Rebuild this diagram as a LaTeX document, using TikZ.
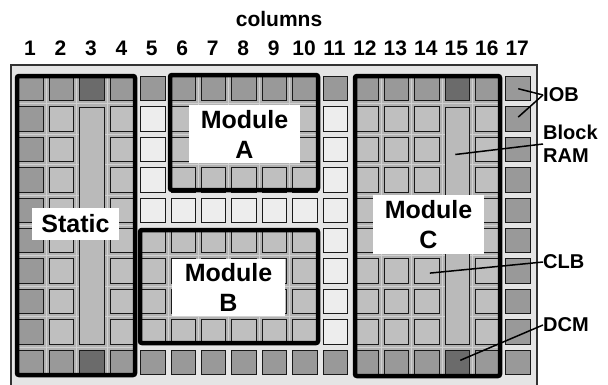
\documentclass[tikz,border=0pt]{standalone}
\usepackage{fontspec}
\setmainfont{Liberation Sans}
\usetikzlibrary{calc}

\tikzset{
  cell/.style={draw=black!90, line width=1pt, minimum size=24.5pt, inner sep=0pt},
  modborder/.style={line width=4.5pt, rounded corners=2pt},
  modlabel/.style={fill=white, font=\bfseries\fontsize{25}{30}\selectfont, align=center, inner sep=0pt},
  sidelabel/.style={font=\bfseries\fontsize{20}{23}\selectfont, anchor=west, align=left, inner sep=0pt},
  colnum/.style={font=\bfseries\fontsize{21}{24}\selectfont, inner sep=0pt},
  pointer/.style={line width=1.5pt}
}

\begin{document}
\begin{tikzpicture}[x=1pt,y=-1pt]
\useasboundingbox (0,0) rectangle (608,384);

% chip outline
\draw[line width=1.2pt, draw=black!80, fill=black!10] (11,65) rectangle (537,400);

% module areas with their routing grid
\foreach \xa/\ya/\xb/\yb in {17/76/135/375, 170/75/318/190, 140/230/318/343, 355/76/500/376}{
  \begin{scope}
    \clip (\xa,\ya) rectangle (\xb,\yb);
    \fill[black!30] (\xa,\ya) rectangle (\xb,\yb);
    \foreach \k in {0,...,16}
      \draw[black!18, line width=1pt] ({46.2+\k*30.45},60) -- ({46.2+\k*30.45},390);
    \foreach \k in {0,...,9}
      \draw[black!18, line width=1pt] (0,{103.9+\k*30.4}) -- (540,{103.9+\k*30.4});
  \end{scope}
}

% CLB and IOB cells
\foreach \i in {1,2,4,5,6,7,8,9,10,11,12,13,14,16,17}{
  \foreach \j in {1,...,10}{
    \pgfmathtruncatemacro{\edge}{(\i==1)||(\i==17)||(\j==1)||(\j==10)}
    \pgfmathtruncatemacro{\inmod}{(\i<5)||(\i>11)||((\i>5)&&(\i<11)&&(\j<5))||((\i>4)&&(\i<11)&&(\j>5)&&(\j<10))}
    \pgfmathtruncatemacro{\shade}{\edge ? 40 : (\inmod ? 25 : 7)}
    \node[cell, fill=black!\shade] (c-\i-\j) at ({31+(\i-1)*30.45},{88.7+(\j-1)*30.4}) {};
  }
}

% block RAM and DCM columns
\foreach \i in {3,15}{
  \node[cell, fill=black!58] (c-\i-1) at ({31+(\i-1)*30.45},88.7) {};
  \node[cell, fill=black!58] (c-\i-10) at ({31+(\i-1)*30.45},362.3) {};
  \node[cell, fill=black!27, minimum height=237pt] (bram-\i) at ({31+(\i-1)*30.45},225.5) {};
}

% module borders
\draw[modborder] (17,76) rectangle (135,375);
\draw[modborder] (170,75) rectangle (318,190);
\draw[modborder] (140,230) rectangle (318,343);
\draw[modborder] (355,76) rectangle (500,376);

% module names
\node[modlabel, minimum width=87pt, minimum height=32pt] (lab-s) at (75.5,224) {Static};
\node[modlabel, minimum width=111pt, minimum height=58pt] (lab-a) at (244.5,134) {Module\\A};
\node[modlabel, minimum width=113pt, minimum height=57pt] (lab-b) at (228.5,287.5) {Module\\B};
\node[modlabel, minimum width=111pt, minimum height=59pt] (lab-c) at (428.5,224.5) {Module\\C};

% column numbers
\node[font=\bfseries\fontsize{21}{24}\selectfont, inner sep=0pt] (cols) at (279,19) {columns};
\foreach \i in {1,...,17}
  \node[colnum] (n-\i) at ({30+(\i-1)*30.45},48.5) {\i};

% resource labels
\node[sidelabel] (iob) at (543,95) {IOB};
\node[sidelabel] (bram) at (543,144) {Block\\RAM};
\node[sidelabel] (clb) at (543,262) {CLB};
\node[sidelabel] (dcm) at (543,325) {DCM};
\draw[pointer] (iob.west) -- (c-17-1.center);
\draw[pointer] (iob.west) -- ($(c-17-2.center)+(0,-2)$);
\draw[pointer] (bram.west) -- ($(bram-15.center)+(-2,-71)$);
\draw[pointer] (clb.west) -- ($(c-14-7.center)+(3,2)$);
\draw[pointer] (dcm.west) -- ($(c-15-10.center)+(3,-2)$);
\end{tikzpicture}
\end{document}
